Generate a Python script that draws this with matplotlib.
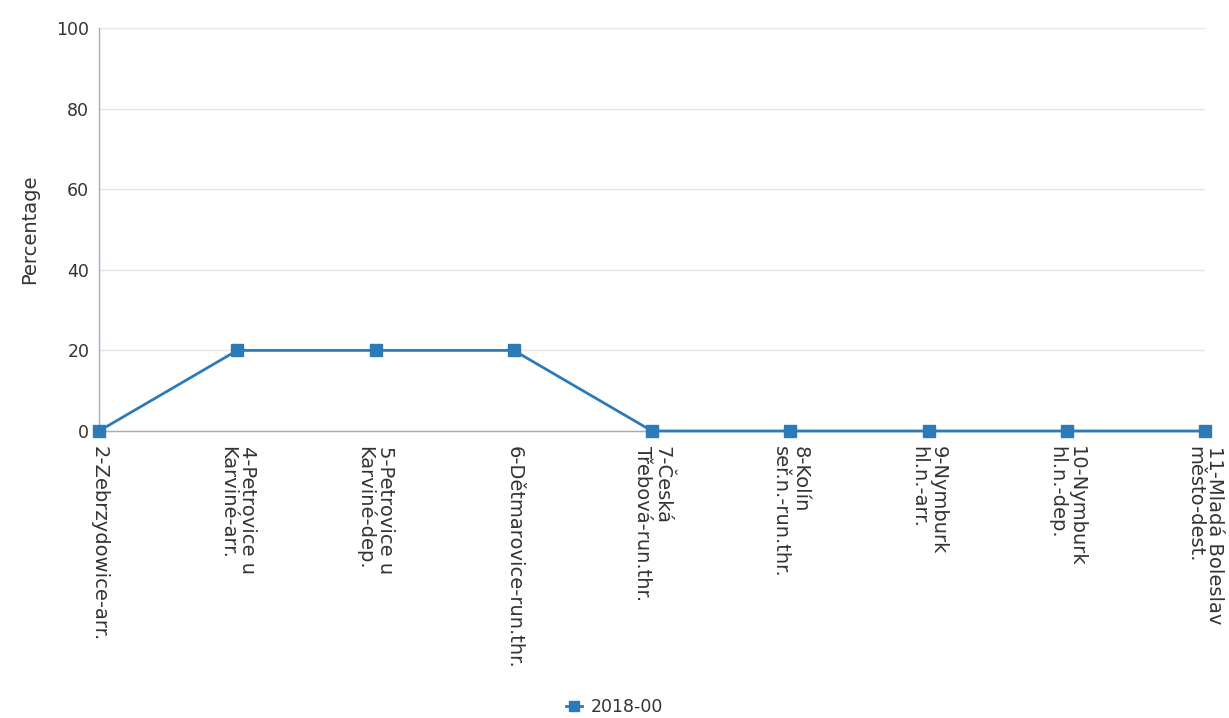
import matplotlib.pyplot as plt

# --- data ---
stations = [
    "2-Zebrzydowice-arr.",
    "4-Petrovice u\nKarviné-arr.",
    "5-Petrovice u\nKarviné-dep.",
    "6-Dětmarovice-run.thr.",
    "7-Česká\nTřebová-run.thr.",
    "8-Kolín\nseř.n.-run.thr.",
    "9-Nymburk\nhl.n.-arr.",
    "10-Nymburk\nhl.n.-dep.",
    "11-Mladá Boleslav\nměsto-dest.",
]
values_2018 = [0, 20, 20, 20, 0, 0, 0, 0, 0]
y_ticks = [0, 20, 40, 60, 80, 100]
series_label = "2018-00"

LINE_COLOR = "#2c7bb8"
AXIS_COLOR = "#a6abc8"
GRID_COLOR = "#e4e4ea"
TEXT_COLOR = "#333333"

plt.rcParams['font.family'] = ['DejaVu Sans']

fig = plt.figure(figsize=(12.29, 7.18), dpi=100)
ax = fig.add_axes([99 / 1229, 1 - 431 / 718, (1205 - 99) / 1229, (431 - 28) / 718])

x = list(range(len(stations)))
ax.plot(x, values_2018, color=LINE_COLOR, linewidth=2.0, marker='s',
        markersize=8.5, markerfacecolor=LINE_COLOR, markeredgecolor=LINE_COLOR,
        label=series_label, clip_on=False, zorder=3)

ax.set_xlim(0, len(stations) - 1)
ax.set_ylim(0, 100)
ax.set_yticks(y_ticks)
ax.set_yticklabels([str(v) for v in y_ticks], fontsize=12.5, color=TEXT_COLOR)
ax.set_xticks(x)
ax.set_xticklabels(stations, rotation=-90, ha='center', va='top',
                   multialignment='left', fontsize=14, color=TEXT_COLOR,
                   linespacing=1.05)
ax.tick_params(axis='x', length=0, pad=11)
ax.tick_params(axis='y', length=0, pad=7)

ax.grid(axis='y', color=GRID_COLOR, linewidth=1)
ax.set_axisbelow(True)
for side in ['top', 'right']:
    ax.spines[side].set_visible(False)
ax.spines['left'].set_color(AXIS_COLOR)
ax.spines['bottom'].set_color(AXIS_COLOR)
ax.spines['left'].set_linewidth(1)
ax.spines['bottom'].set_linewidth(1)

ax.set_ylabel("Percentage", fontsize=14, color=TEXT_COLOR, labelpad=12)

fig.legend(loc='center', bbox_to_anchor=(0.5, 1 - 707 / 718), frameon=False,
           fontsize=12.5, handlelength=0.9, handletextpad=0.5, markerscale=0.8,
           labelcolor=TEXT_COLOR)

fig.savefig("out.png", dpi=100)
